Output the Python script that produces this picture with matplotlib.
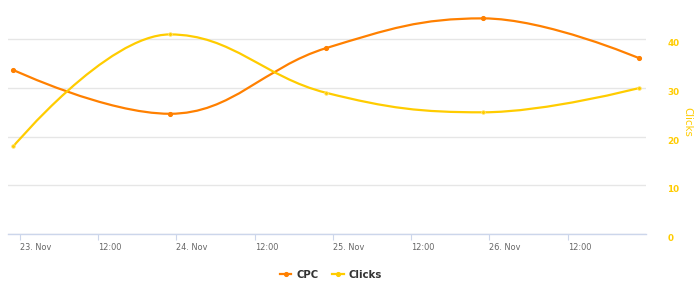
import matplotlib
matplotlib.use("Agg")
import matplotlib.pyplot as plt
import matplotlib.dates as mdates
from matplotlib.path import Path
from matplotlib.patches import PathPatch
from matplotlib.lines import Line2D
from matplotlib.ticker import FixedLocator, NullFormatter
from datetime import datetime

# ---- data ----
dates = ["2023-11-22 23:00", "2023-11-23 23:00", "2023-11-24 23:00",
         "2023-11-25 23:00", "2023-11-26 23:00"]
cpc = [0.337, 0.247, 0.382, 0.443, 0.361]
clicks = [18, 41, 29, 25, 30]
tick_times = ["2023-11-23 00:00", "2023-11-23 12:00", "2023-11-24 00:00",
              "2023-11-24 12:00", "2023-11-25 00:00", "2023-11-25 12:00",
              "2023-11-26 00:00", "2023-11-26 12:00"]
tick_labels = ["23. Nov", "12:00", "24. Nov", "12:00", "25. Nov", "12:00",
               "26. Nov", "12:00"]
clicks_ticks = [0, 10, 20, 30, 40]
cpc_ticks = [0, 0.1, 0.2, 0.3, 0.4]

CPC_COLOR = "#FF8000"
CLICKS_COLOR = "#FFCC00"
GRID = "#E6E6E6"
AXIS = "#CCD6EB"

plt.rcParams['font.family'] = ['DejaVu Sans']

def parse(s):
    return datetime.strptime(s, "%Y-%m-%d %H:%M")

xd = [mdates.date2num(parse(d)) for d in dates]
xt = [mdates.date2num(parse(t)) for t in tick_times]


def hc_spline(xs, ys, smoothing=1.5):
    """Highcharts-style spline path."""
    denom = smoothing + 1
    n = len(xs)
    right = [None] * n
    verts = [(xs[0], ys[0])]
    codes = [Path.MOVETO]
    for i in range(1, n):
        px, py = xs[i], ys[i]
        lx, ly = xs[i - 1], ys[i - 1]
        lcx, lcy = px, py
        if i < n - 1:
            nx, ny = xs[i + 1], ys[i + 1]
            lcx = (smoothing * px + lx) / denom
            lcy = (smoothing * py + ly) / denom
            rcx = (smoothing * px + nx) / denom
            rcy = (smoothing * py + ny) / denom
            corr = 0
            if rcx != lcx:
                corr = (rcy - lcy) * (rcx - px) / (rcx - lcx) + py - rcy
            lcy += corr
            rcy += corr
            if lcy > ly and lcy > py:
                lcy = max(ly, py); rcy = 2 * py - lcy
            elif lcy < ly and lcy < py:
                lcy = min(ly, py); rcy = 2 * py - lcy
            if rcy > ny and rcy > py:
                rcy = max(ny, py); lcy = 2 * py - rcy
            elif rcy < ny and rcy < py:
                rcy = min(ny, py); lcy = 2 * py - rcy
            right[i] = (rcx, rcy)
        prc = right[i - 1] if right[i - 1] is not None else (lx, ly)
        verts += [prc, (lcx, lcy), (px, py)]
        codes += [Path.CURVE4] * 3
    return Path(verts, codes)


W, H = 700, 289
fig = plt.figure(figsize=(W / 100, H / 100), dpi=100)
left_px, right_px, top_px, bottom_px = 8.3, 646, 10, 234
ax = fig.add_axes([left_px / W, (H - bottom_px) / H,
                   (right_px - left_px) / W, (bottom_px - top_px) / H])
ax2 = ax.twinx()

px_per_unit = (234 - 39.3) / 40.0
ymax_clicks = (bottom_px - top_px) / px_per_unit
ax2.set_ylim(0, ymax_clicks)
ax.set_ylim(0, ymax_clicks / 100.0)
ax.set_xlim(xd[0] - 0.77 / 24, xd[-1] + 1.03 / 24)

# grid on hidden CPC axis (behind both series)
ax.yaxis.set_major_locator(FixedLocator(cpc_ticks))
ax.yaxis.set_major_formatter(NullFormatter())
ax.tick_params(axis='y', length=0, left=False, labelleft=False)
ax.grid(axis='y', color=GRID, linewidth=1.0)
ax.set_axisbelow(True)

# series
ax.add_patch(PathPatch(hc_spline(xd, cpc), facecolor='none', edgecolor=CPC_COLOR,
                       linewidth=1.6, capstyle='round', joinstyle='round', zorder=3))
ax.plot(xd, cpc, linestyle='none', marker='o', markersize=2.7,
        color=CPC_COLOR, markeredgecolor=CPC_COLOR, zorder=4)
ax2.add_patch(PathPatch(hc_spline(xd, clicks), facecolor='none', edgecolor=CLICKS_COLOR,
                        linewidth=1.6, capstyle='round', joinstyle='round', zorder=3))
ax2.plot(xd, clicks, linestyle='none', marker='o', markersize=2.7,
         color=CLICKS_COLOR, markeredgecolor='#FFE680', markeredgewidth=0.5, zorder=4)

# x axis
ax.xaxis.set_major_locator(FixedLocator(xt))
ax.set_xticklabels(tick_labels)
ax.tick_params(axis='x', direction='out', length=4.3, width=0.8, color=AXIS,
               labelsize=5.9, labelcolor='#666666', pad=2.4)
for lbl in ax.get_xticklabels():
    lbl.set_horizontalalignment('left')

for a in (ax, ax2):
    for s in ('top', 'left', 'right'):
        a.spines[s].set_visible(False)
ax2.spines['bottom'].set_visible(False)
ax.spines['bottom'].set_color(AXIS)
ax.spines['bottom'].set_linewidth(1.0)

# right axis (Clicks)
ax2.yaxis.set_major_locator(FixedLocator(clicks_ticks))
ax2.tick_params(axis='y', length=0, labelsize=6.3, labelcolor=CLICKS_COLOR, pad=15.5)
for lbl in ax2.get_yticklabels():
    lbl.set_fontweight('bold')
    lbl.set_verticalalignment('top')
ax2.set_ylabel("Clicks", color=CLICKS_COLOR, rotation=270, fontsize=7.4,
               labelpad=9)

# legend
handles = [
    Line2D([], [], color=CPC_COLOR, lw=1.6, marker='o', markersize=2.7),
    Line2D([], [], color=CLICKS_COLOR, lw=1.6, marker='o', markersize=2.7),
]
fig.legend(handles, ["CPC", "Clicks"], loc='center', bbox_to_anchor=(331 / W, 1 - 275 / H),
           ncol=2, frameon=False, prop={'weight': 'bold', 'size': 7.3},
           labelcolor='#333333', handlelength=1.1, handletextpad=0.5,
           columnspacing=1.4)

fig.savefig("out.png", dpi=100)
